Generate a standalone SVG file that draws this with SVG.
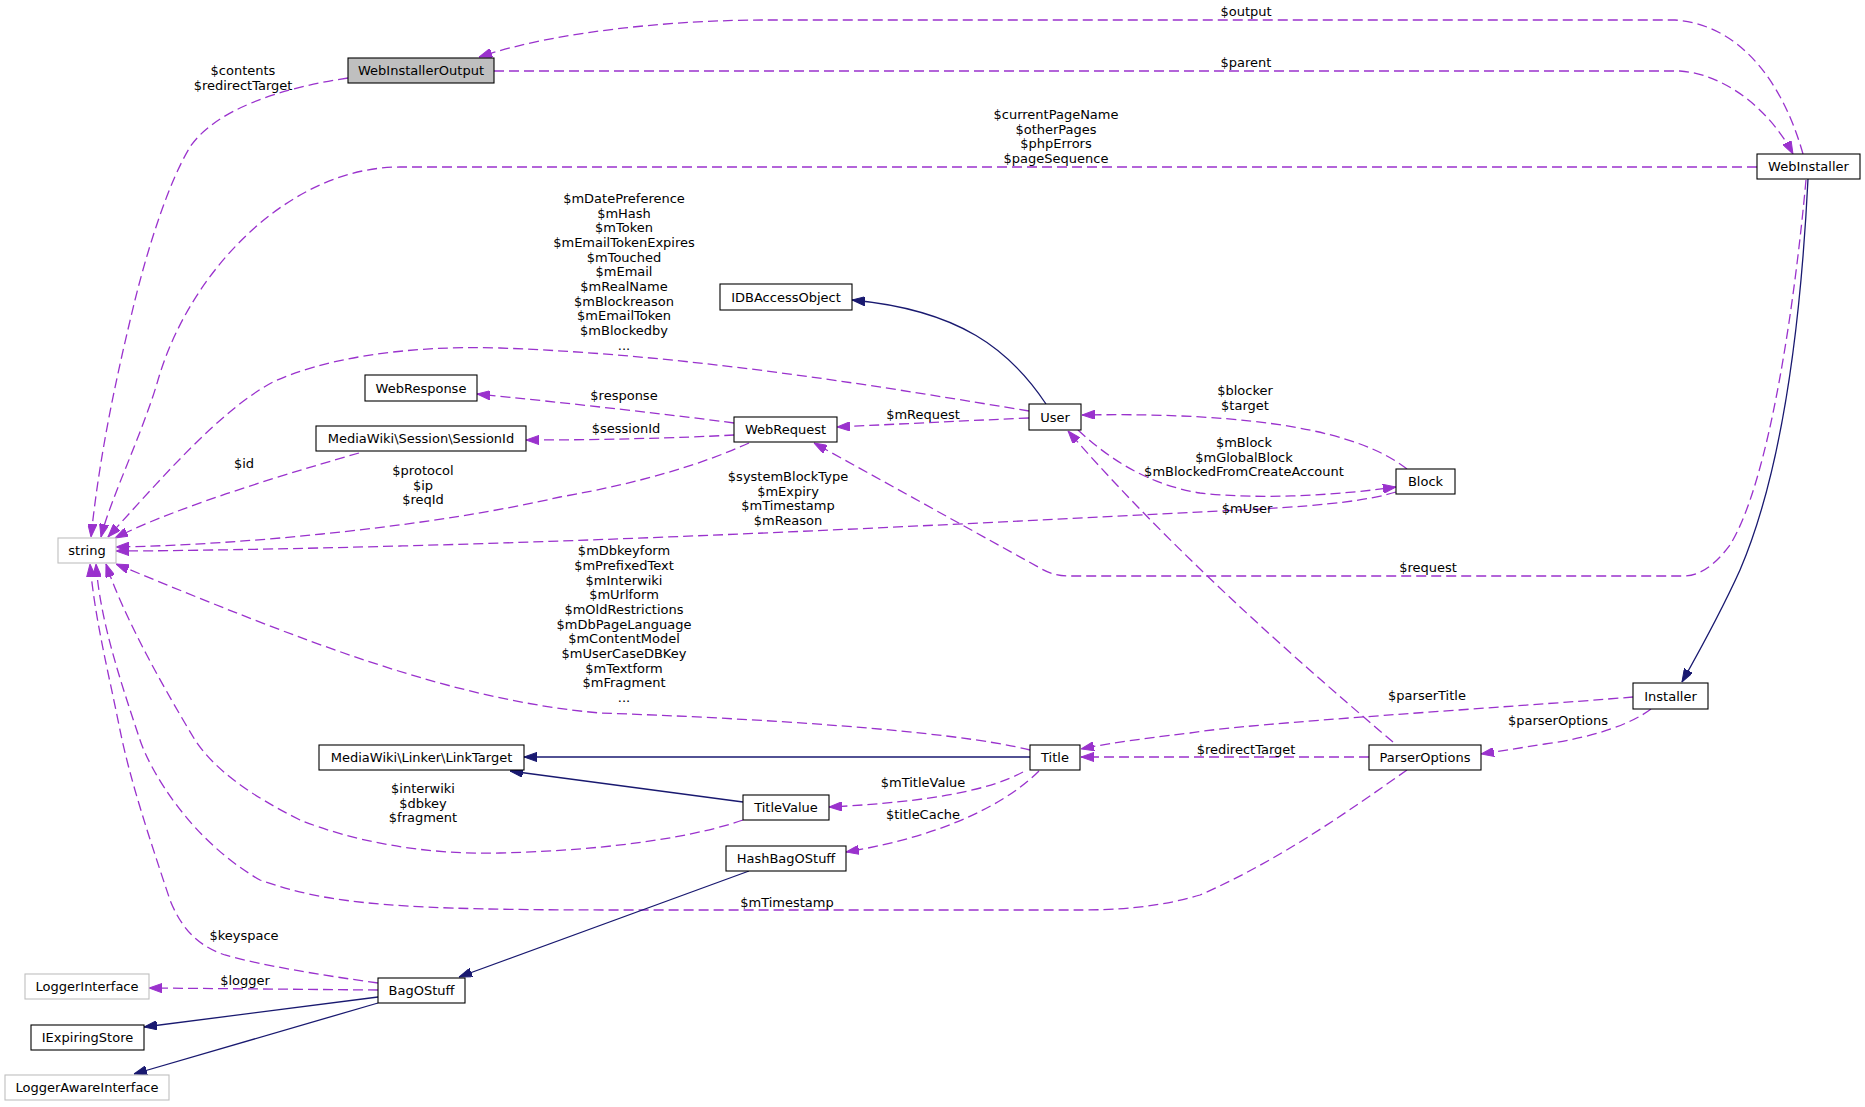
<svg xmlns="http://www.w3.org/2000/svg" width="1865" height="1107" viewBox="0 0 1865 1107">
<style>
text{font-family:"DejaVu Sans","Liberation Sans",sans-serif;font-size:13px;fill:#000;text-anchor:middle}
.n rect{fill:#fff;stroke:#000;stroke-width:1.1}
.g rect{stroke:#bfbfbf}
.h rect{fill:#bfbfbf}
.d{fill:none;stroke:#9a32cd;stroke-width:1.3;stroke-dasharray:10,5;marker-end:url(#ap)}
.s{fill:none;stroke:#191970;stroke-width:1.3;marker-end:url(#ab)}
</style>
<defs>
<marker id="ap" markerUnits="userSpaceOnUse" viewBox="0 0 13 9.2" refX="13" refY="4.6" markerWidth="13" markerHeight="9.2" orient="auto"><path d="M0,0L13,4.6L0,9.2z" fill="#9a32cd" stroke="#9a32cd" stroke-width="1"/></marker>
<marker id="ab" markerUnits="userSpaceOnUse" viewBox="0 0 13 9.2" refX="13" refY="4.6" markerWidth="13" markerHeight="9.2" orient="auto"><path d="M0,0L13,4.6L0,9.2z" fill="#191970" stroke="#191970" stroke-width="1"/></marker>
</defs>
<rect width="1865" height="1107" fill="#fff"/>
<g id="connectors">
<path class="d" d="M1803,154 C1785,90 1745,25 1675,20 L766,20 C680,20 560,30 479,57"/>
<path class="d" d="M494,71 L1680,71 C1725,74 1770,110 1793,154"/>
<path class="d" d="M1757,167 L400,167 C290,167 190,270 158,380 C143,432 110,500 101,537"/>
<path class="d" d="M348,78 C280,88 215,110 190,147 C170,180 150,240 135,300 C118,370 100,450 91,537"/>
<path class="d" d="M1029,411 C900,390 700,355 500,348 C400,345 320,360 273,382 C220,410 160,480 108,537"/>
<path class="d" d="M734,423 C690,417 560,402 477,394"/>
<path class="d" d="M734,435 C680,438 600,440 526,440"/>
<path class="d" d="M359,453 C300,470 180,505 115,538"/>
<path class="d" d="M749,443 C700,465 640,483 560,497 C440,525 250,545 116,547"/>
<path class="d" d="M1029,418 C960,421 900,424 837,427"/>
<path class="s" d="M1046,404 C1010,350 960,310 852,300"/>
<path class="d" d="M1407,469 C1360,432 1260,412 1082,415"/>
<path class="d" d="M1078,430 C1110,460 1150,485 1200,493 C1260,500 1340,495 1396,487"/>
<path class="d" d="M1396,492 C1370,500 1330,505 1260,509 C1000,522 700,538 400,546 C250,550 150,551 116,551"/>
<path class="d" d="M1806,180 C1795,300 1770,480 1730,545 C1715,565 1700,576 1683,576 L1070,576 C1060,576 1050,574 1040,568 L814,443"/>
<path class="s" d="M1808,179 C1798,380 1770,500 1740,570 C1722,610 1700,650 1682,682"/>
<path class="d" d="M1633,697 C1500,708 1250,723 1190,733 C1130,740 1100,745 1081,749"/>
<path class="d" d="M1651,709 C1630,725 1590,738 1545,744 C1520,748 1500,751 1481,754"/>
<path class="d" d="M1369,757 L1081,757"/>
<path class="d" d="M1393,742 C1320,680 1180,560 1068,431"/>
<path class="d" d="M1407,770 C1350,810 1280,860 1200,895 C1150,910 1100,910 1077,910 L620,910 C400,910 330,905 260,880 C190,840 150,770 140,740 C120,680 100,620 96,564"/>
<path class="d" d="M1030,750 C950,730 750,718 600,713 C450,700 300,640 116,564"/>
<path class="s" d="M1030,757 L524,757"/>
<path class="s" d="M743,802 L510,771"/>
<path class="d" d="M1023,772 C990,790 930,802 829,807"/>
<path class="d" d="M1039,771 C1010,800 950,835 846,852"/>
<path class="s" d="M749,871 L459,977"/>
<path class="d" d="M378,990 L149,988"/>
<path class="s" d="M378,997 L144,1027"/>
<path class="s" d="M378,1003 L134,1074"/>
<path class="d" d="M378,983 C320,975 260,965 225,955 C195,945 180,925 170,900 C150,840 130,780 120,730 C108,670 95,620 90,564"/>
<path class="d" d="M743,820 C700,835 620,850 500,853 C420,855 350,840 300,820 C250,795 215,770 195,740 C165,690 125,620 106,564"/>
</g>
<g id="labels">
<text x="1246" y="16">$output</text>
<text x="1246" y="67">$parent</text>
<text x="243" y="75">$contents<tspan x="243" dy="14.67">$redirectTarget</tspan></text>
<text x="1056" y="119">$currentPageName<tspan x="1056" dy="14.67">$otherPages</tspan><tspan x="1056" dy="14.67">$phpErrors</tspan><tspan x="1056" dy="14.67">$pageSequence</tspan></text>
<text x="624" y="203">$mDatePreference<tspan x="624" dy="14.67">$mHash</tspan><tspan x="624" dy="14.67">$mToken</tspan><tspan x="624" dy="14.67">$mEmailTokenExpires</tspan><tspan x="624" dy="14.67">$mTouched</tspan><tspan x="624" dy="14.67">$mEmail</tspan><tspan x="624" dy="14.67">$mRealName</tspan><tspan x="624" dy="14.67">$mBlockreason</tspan><tspan x="624" dy="14.67">$mEmailToken</tspan><tspan x="624" dy="14.67">$mBlockedby</tspan><tspan x="624" dy="14.67">...</tspan></text>
<text x="624" y="400">$response</text>
<text x="626" y="433">$sessionId</text>
<text x="244" y="468">$id</text>
<text x="423" y="475">$protocol<tspan x="423" dy="14.67">$ip</tspan><tspan x="423" dy="14.67">$reqId</tspan></text>
<text x="923" y="419">$mRequest</text>
<text x="1245" y="395">$blocker<tspan x="1245" dy="14.67">$target</tspan></text>
<text x="1244" y="447">$mBlock<tspan x="1244" dy="14.67">$mGlobalBlock</tspan><tspan x="1244" dy="14.67">$mBlockedFromCreateAccount</tspan></text>
<text x="1247" y="513">$mUser</text>
<text x="788" y="481">$systemBlockType<tspan x="788" dy="14.67">$mExpiry</tspan><tspan x="788" dy="14.67">$mTimestamp</tspan><tspan x="788" dy="14.67">$mReason</tspan></text>
<text x="1428" y="572">$request</text>
<text x="624" y="555.3">$mDbkeyform<tspan x="624" dy="14.67">$mPrefixedText</tspan><tspan x="624" dy="14.67">$mInterwiki</tspan><tspan x="624" dy="14.67">$mUrlform</tspan><tspan x="624" dy="14.67">$mOldRestrictions</tspan><tspan x="624" dy="14.67">$mDbPageLanguage</tspan><tspan x="624" dy="14.67">$mContentModel</tspan><tspan x="624" dy="14.67">$mUserCaseDBKey</tspan><tspan x="624" dy="14.67">$mTextform</tspan><tspan x="624" dy="14.67">$mFragment</tspan><tspan x="624" dy="14.67">...</tspan></text>
<text x="1427" y="700">$parserTitle</text>
<text x="1558" y="725">$parserOptions</text>
<text x="1246" y="753.5">$redirectTarget</text>
<text x="923" y="787">$mTitleValue</text>
<text x="923" y="818.5">$titleCache</text>
<text x="787" y="907">$mTimestamp</text>
<text x="423" y="793">$interwiki<tspan x="423" dy="14.67">$dbkey</tspan><tspan x="423" dy="14.67">$fragment</tspan></text>
<text x="244" y="940">$keyspace</text>
<text x="245" y="984.5">$logger</text>
</g>
<g id="WebInstallerOutput" class="n h"><rect x="348" y="58" width="146" height="25"/><text x="421" y="75">WebInstallerOutput</text></g>
<g id="WebInstaller" class="n"><rect x="1757" y="154" width="103" height="25"/><text x="1808.5" y="171">WebInstaller</text></g>
<g id="IDBAccessObject" class="n"><rect x="720" y="284" width="132" height="26"/><text x="786" y="301.5">IDBAccessObject</text></g>
<g id="string" class="n g"><rect x="58" y="538" width="58" height="25"/><text x="87" y="555">string</text></g>
<g id="WebResponse" class="n"><rect x="365" y="375" width="112" height="26"/><text x="421" y="392.5">WebResponse</text></g>
<g id="SessionId" class="n"><rect x="316" y="426" width="210" height="25"/><text x="421" y="443">MediaWiki\Session\SessionId</text></g>
<g id="WebRequest" class="n"><rect x="734" y="417" width="103" height="25"/><text x="785.5" y="434">WebRequest</text></g>
<g id="User" class="n"><rect x="1029" y="404" width="52" height="26"/><text x="1055" y="421.5">User</text></g>
<g id="Block" class="n"><rect x="1396" y="469" width="59" height="25"/><text x="1425.5" y="486">Block</text></g>
<g id="Installer" class="n"><rect x="1633" y="683" width="75" height="26"/><text x="1670.5" y="700.5">Installer</text></g>
<g id="ParserOptions" class="n"><rect x="1369" y="745" width="112" height="25"/><text x="1425" y="762">ParserOptions</text></g>
<g id="Title" class="n"><rect x="1030" y="745" width="50" height="25"/><text x="1055" y="762">Title</text></g>
<g id="TitleValue" class="n"><rect x="743" y="795" width="86" height="25"/><text x="786" y="812">TitleValue</text></g>
<g id="HashBagOStuff" class="n"><rect x="726" y="846" width="120" height="25"/><text x="786" y="863">HashBagOStuff</text></g>
<g id="LinkTarget" class="n"><rect x="319" y="745" width="205" height="25"/><text x="421.5" y="762">MediaWiki\Linker\LinkTarget</text></g>
<g id="BagOStuff" class="n"><rect x="378" y="978" width="87" height="25"/><text x="421.5" y="995">BagOStuff</text></g>
<g id="LoggerInterface" class="n g"><rect x="25" y="974" width="124" height="25"/><text x="87" y="991">LoggerInterface</text></g>
<g id="IExpiringStore" class="n"><rect x="31" y="1025" width="113" height="25"/><text x="87.5" y="1042">IExpiringStore</text></g>
<g id="LoggerAwareInterface" class="n g"><rect x="5" y="1075" width="164" height="25"/><text x="87" y="1092">LoggerAwareInterface</text></g>
</svg>
